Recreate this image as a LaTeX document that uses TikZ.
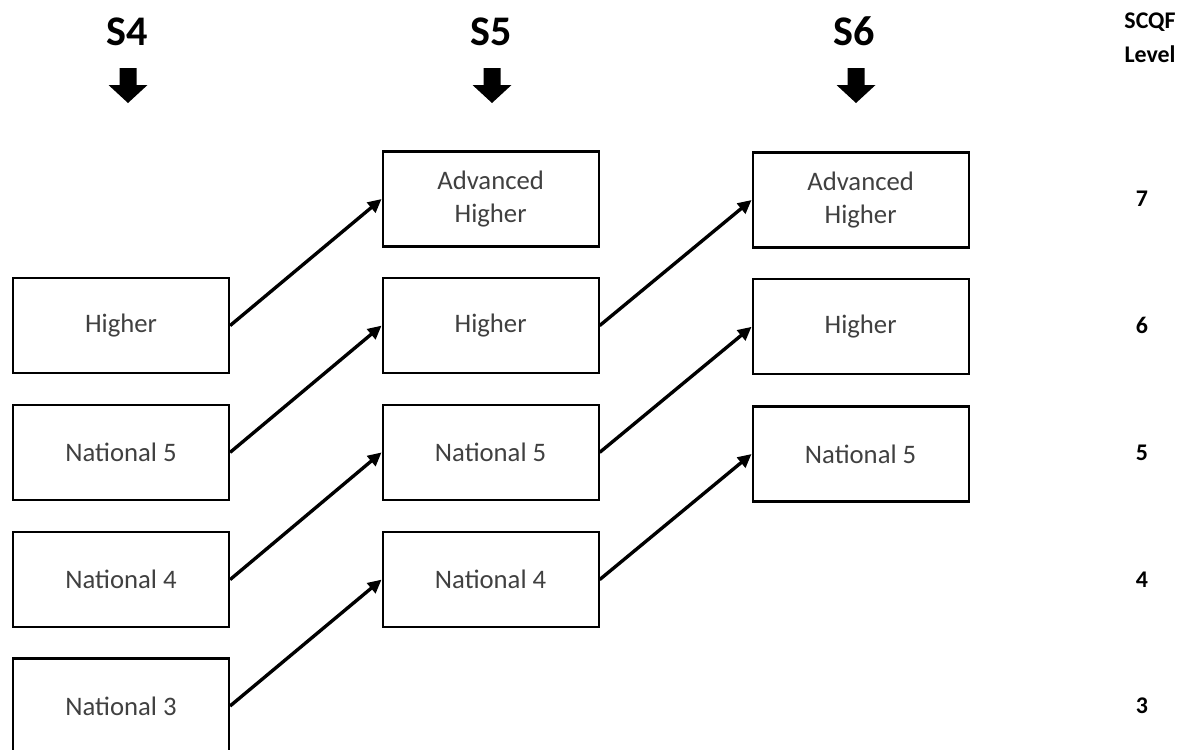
\documentclass[tikz,border=0pt]{standalone}
\usepackage{fontspec}
\setmainfont{Carlito}
\usetikzlibrary{arrows.meta}
\tikzset{
  box/.style={draw=black, line width=1.5pt, minimum width=5.4cm, minimum height=2.375cm, align=center, text=black!75, font=\fontsize{19}{23}\selectfont},
  link/.style={line width=2.4pt, -{Triangle[length=0.34cm,width=0.32cm]}},
  hdr/.style={font=\fontsize{30}{36}\selectfont\bfseries},
  lvl/.style={align=center, font=\fontsize{17}{24}\selectfont\bfseries}
}
\begin{document}
\begin{tikzpicture}
\useasboundingbox (0,0) rectangle (29.6,-18.725);
\node[hdr] (s4) at (3.19,-0.79) {S4};
\node[hdr] (s5) at (12.275,-0.79) {S5};
\node[hdr] (s6) at (21.35,-0.79) {S6};
\foreach \x in {3.2,12.3,21.4}
  \fill[shift={(\x,-1.7)}] (-0.2125,0) -- (0.2125,0) -- (0.2125,-0.425) -- (0.4875,-0.425)
    -- (0,-0.875) -- (-0.4875,-0.425) -- (-0.2125,-0.425) -- cycle;
\node[box] (h4) at (3.025,-8.14) {Higher};
\node[box] (n54) at (3.025,-11.31) {National 5};
\node[box] (n44) at (3.025,-14.49) {National 4};
\node[box] (n34) at (3.025,-17.65) {National 3};
\node[box] (ah5) at (12.265,-4.975) {Advanced\\Higher};
\node[box] (h5) at (12.265,-8.14) {Higher};
\node[box] (n55) at (12.265,-11.31) {National 5};
\node[box] (n45) at (12.265,-14.49) {National 4};
\node[box] (ah6) at (21.515,-5.0) {Advanced\\Higher};
\node[box] (h6) at (21.515,-8.17) {Higher};
\node[box] (n56) at (21.515,-11.35) {National 5};
\node[lvl] (scqf) at (28.75,-0.95) {SCQF\\Level};
\node[lvl] (l7) at (28.55,-4.975) {7};
\node[lvl] (l6) at (28.55,-8.14) {6};
\node[lvl] (l5) at (28.55,-11.31) {5};
\node[lvl] (l4) at (28.55,-14.49) {4};
\node[lvl] (l3) at (28.55,-17.65) {3};
\foreach \a/\b in {h4/ah5,n54/h5,n44/n55,n34/n45,h5/ah6,n55/h6,n45/n56}
  \draw[link] (\a.east) -- (\b.west);
\end{tikzpicture}
\end{document}
